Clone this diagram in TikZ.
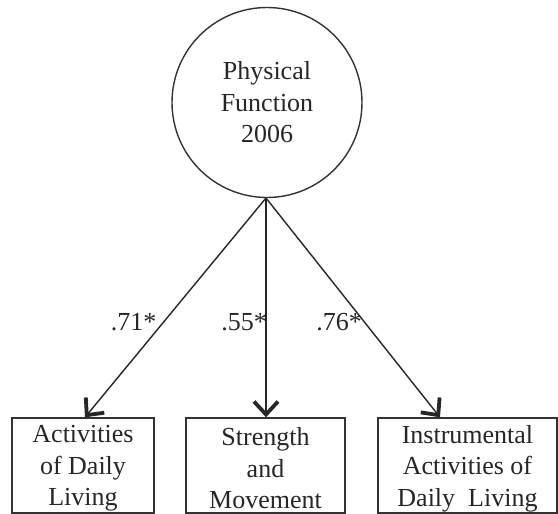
\documentclass[tikz,border=0pt]{standalone}
\usepackage{fontspec}
\setmainfont{Liberation Serif}
\usetikzlibrary{arrows.meta}
\begin{document}
\begin{tikzpicture}[x=1pt,y=-1pt,
  every node/.style={font=\fontsize{26}{31.5}\selectfont, text=black!85},
  latent/.style={draw=black!80, line width=1.4pt, circle, minimum size=190pt, inner sep=0pt, align=center},
  indicator/.style={draw=black!80, line width=1.4pt, rectangle, minimum height=95pt, inner sep=0pt},
  boxtext/.style={inner sep=0pt, align=center},
  path/.style={draw=black!85, line width=1.4pt, -{Straight Barb[length=13pt,width=24pt,line width=3.8pt]}},
  loading/.style={inner sep=0pt}
]
\useasboundingbox (0,0) rectangle (558,514);

% latent factor
\node[latent] (pf) at (267,102.5) {Physical\\Function\\2006};

% observed indicators
\node[indicator, minimum width=142pt] (adl) at (83,465.5) {};
\node[indicator, minimum width=159pt] (sm) at (265.5,465.5) {};
\node[indicator, minimum width=179pt] (iadl) at (467.5,465.5) {};
\node[boxtext] (adlt) at ([yshift=-3pt]adl.center) {Activities\\of Daily\\Living};
\node[boxtext] (smt) at ([yshift=-3pt]sm.center) {Strength\\and\\Movement};
\node[boxtext] (iadlt) at ([yshift=-3pt]iadl.center) {Instrumental\\Activities of\\Daily~~Living};

% loadings
\coordinate (src) at (266,198);
\draw[path] (src) -- (adl.north -| 85,0);
\draw[path] (src) -- (sm.north -| 266,0);
\draw[path] (src) -- (iadl.north -| 440,0);

\node[loading] (l1) at (133.5,322) {.71*};
\node[loading] (l2) at (244,322) {.55*};
\node[loading] (l3) at (339,322) {.76*};
\end{tikzpicture}
\end{document}
